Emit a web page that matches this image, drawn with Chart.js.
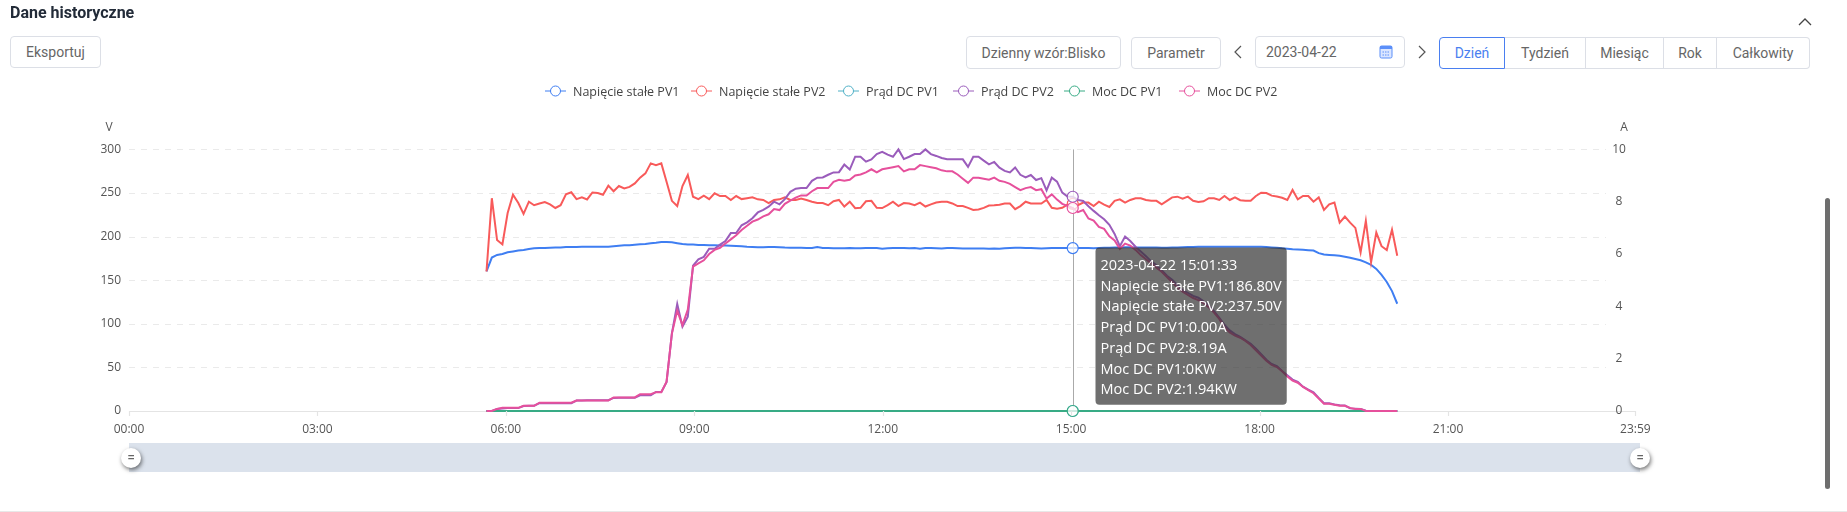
<!DOCTYPE html>
<html>
<head>
<meta charset="utf-8">
<title>Dane historyczne</title>
<script src="https://cdn.jsdelivr.net/npm/chart.js@4/dist/chart.umd.min.js"></script>
<style>
body { margin: 0; width: 1847px; height: 512px; overflow: hidden; background: #fff; font-family: Roboto, sans-serif; position: relative; }
#chart { position: absolute; left: 0; top: 0; }
.title { position: absolute; left: 10px; top: 2px; font-size: 16px; font-weight: 700; color: #222b38; line-height: 22px; }
.btn { position: absolute; box-sizing: border-box; border: 1px solid #dcdfe6; border-radius: 4px; font-size: 14px; color: #666; display: flex; align-items: center; justify-content: center; background: #fff; }
.seg { border-radius: 0; border-left: none; }
.legend-item { position: absolute; top: 83px; height: 16px; display: flex; align-items: center; font: 12.5px "Open Sans", sans-serif; color: #444; white-space: nowrap; }
.legend-item svg { margin-right: 7px; }
.slider { position: absolute; left: 129px; top: 443px; width: 1511px; height: 29px; background: #dbe2ec; }
.handle { position: absolute; top: 448px; width: 20px; height: 20px; border-radius: 50%; background: #fff; box-shadow: 1px 2px 4px rgba(0,0,0,.55); color: #666; font-size: 14px; line-height: 19px; text-align: center; }
.scroll { position: absolute; left: 1825px; top: 198px; width: 5px; height: 291px; background: #6e6e6e; border-radius: 3px; }
.rule { position: absolute; left: 0; right: 0; top: 511px; height: 1px; background: #e8e8e8; }
</style>
</head>
<body>
<canvas id="chart" width="1847" height="512"></canvas>
<div class="title">Dane historyczne</div>
<svg style="position:absolute;left:1798px;top:17px" width="14" height="9"><path d="M1 8 L7 2 L13 8" fill="none" stroke="#444" stroke-width="1.3"/></svg>
<div class="btn" style="left:10px;top:36px;width:91px;height:32px">Eksportuj</div>
<div class="btn" style="left:966px;top:36px;width:155px;height:33px">Dzienny wzór:Blisko</div>
<div class="btn" style="left:1131px;top:37px;width:90px;height:32px">Parametr</div>
<svg style="position:absolute;left:1233px;top:45px" width="10" height="14"><path d="M8 1 L2 7 L8 13" fill="none" stroke="#555" stroke-width="1.2"/></svg>
<div class="btn" style="left:1255px;top:36px;width:150px;height:32px;justify-content:flex-start;padding-left:10px">2023-04-22</div>
<svg style="position:absolute;left:1379px;top:44px" width="14" height="15"><rect x="1" y="2" width="12" height="12" rx="1.5" fill="#dbe6ff" stroke="#5b8ff9"/><rect x="1" y="2" width="12" height="3" fill="#5b8ff9"/><path d="M3.5 8h7M3.5 11h7" stroke="#5b8ff9" stroke-dasharray="1.5 1"/></svg>
<svg style="position:absolute;left:1417px;top:45px" width="10" height="14"><path d="M2 1 L8 7 L2 13" fill="none" stroke="#555" stroke-width="1.2"/></svg>
<div class="btn" style="left:1439px;top:37px;width:66px;height:32px;color:#4a7ff0;border-color:#4a7ff0;border-radius:4px 0 0 4px;z-index:1">Dzień</div>
<div class="btn seg" style="left:1505px;top:37px;width:81px;height:32px">Tydzień</div>
<div class="btn seg" style="left:1586px;top:37px;width:78px;height:32px">Miesiąc</div>
<div class="btn seg" style="left:1664px;top:37px;width:53px;height:32px">Rok</div>
<div class="btn seg" style="left:1717px;top:37px;width:93px;height:32px;border-radius:0 4px 4px 0">Całkowity</div>
<div class="slider"></div>
<div class="handle" style="left:121px">=</div>
<div class="handle" style="left:1630px">=</div>
<div class="scroll"></div>
<div class="rule"></div>
<script>
// minutes of the day for each sample, 05:41:33 to 20:11:33
const times = [341.5,346.6,351.6,356.7,361.7,366.8,371.9,376.9,382,387,392.1,397.2,402.2,407.3,412.3,417.4,422.5,427.5,432.6,437.6,442.7,447.8,452.8,457.9,462.9,468,473.1,478.1,483.2,488.2,493.3,498.4,503.4,508.5,513.5,518.6,523.7,528.7,533.8,538.8,543.9,
  549.1,554.2,559.4,564.6,569.7,574.9,580,585.2,590.4,595.5,600.7,605.9,611,616.2,621.4,626.5,631.7,636.9,642,647.2,652.4,657.5,662.7,667.9,673,678.2,683.3,688.5,693.7,698.8,704,709.2,714.3,719.5,724.7,729.8,735,740.2,745.3,750.5,755.6,760.8,766,771.1,776.3,781.5,
  786.5,791.5,796.5,801.5,806.5,811.5,816.5,821.5,826.5,831.5,836.5,841.5,846.5,851.5,856.5,861.5,866.5,871.5,876.5,881.5,886.5,891.5,896.5,901.5,
  906.5,911.5,916.5,921.5,926.5,931.5,936.5,941.5,946.5,951.5,956.5,961.5,966.5,971.5,976.5,981.5,986.5,991.5,996.5,1001.5,1006.5,1011.5,1016.5,1021.5,
  1026.5,1031.5,1036.5,1041.5,1046.5,1051.5,1056.5,1061.5,1066.5,1071.5,1076.5,1081.5,1086.5,1091.5,1096.5,1101.5,1106.5,1111.5,1116.5,1121.5,1126.5,1131.5,1136.5,1141.5,1146.5,1151.5,1156.5,1161.5,1166.5,1171.5,1176.5,1181.5,1186.5,1191.5,1196.5,1201.5,1206.5,1211.5];

const voltagePV1 = [160,176,179,180,182,183,184,184.6,185.8,186.5,186.8,187,187.2,187.4,187.6,188,188,188.2,188.3,188.4,188.4,188.4,188.4,188.5,189,189.6,190,190,190.6,191.2,191.6,192.4,193,193.8,193.8,193.5,192.5,191.5,191,190.8,190.5,
  190.5,190.2,190,189.8,189.7,189.5,189.2,188.8,188.3,188,187.8,187.8,188,188.2,187.8,187.4,187.2,187.2,187.3,187,187,188,187,186.8,186.6,186.6,186.6,186.8,186.6,186.6,187,186.8,186.8,186.2,186.6,186.8,
  187,186.8,186.6,186.8,186.2,187,186.8,186.6,186.4,186.8,
  186.8,186.6,186.4,186.4,186.4,186.4,186.4,186.2,186.4,186,186.6,187,187.2,187.2,187,186.8,186.6,186.4,186.6,186.8,186.8,186.8,186.8,186.8,
  186.8,187,186.8,186.6,187,187.2,187.2,187.4,187.6,187.8,187.8,187.6,187.4,187.6,187.6,187.4,187.2,187.2,187.4,187.6,187.8,188,188.2,
  188.4,188.5,188.5,188.5,188.5,188.5,188.5,188.5,188.5,188.5,188.5,188.4,188.3,188,187.6,187.2,186.6,186.2,185.6,185.2,184.8,184.4,184,181,179.4,179,178.6,178,177,175.8,174.4,172.8,170.5,167.5,163,156,148,137.5,123];

const voltagePV2 = [160,244,196,191,227,248,238.5,226,240,236,238,239.7,237,232.8,236,248.6,250.8,243,245,242.6,250.6,250,248,258.4,252,258,255.3,257,261,267.6,272.5,284,282,284,263,241,235,258,270.6,245.7,243,
  247,243,249.6,246.5,246.5,242,246.5,243,244,245,242.7,242,238.5,242,242.7,245,242,242,243.7,242,240,238.5,238.5,236,240.5,242,234.5,240,232.5,233,240.5,241,233,232.7,236,240,235,238.5,238,236,239,234.5,237,239,240,240,
  238,235,235,233,230.5,231,233,235.7,236,236.6,238,238,231.5,235,240,238,238,238,242,233,232,233,236.6,237.5,
  236,239,239,235,240,236.6,234,241,242.7,239,242,244,244,242,241,241,237,241,245,245.8,243.5,245.8,241,
  239.7,240.5,244,244,242,246.6,242,245,241.7,241,241,246.6,250.4,250,247,246,244.5,242,253.5,242.7,246.6,246.6,240,245,230.5,237,239,216,223,216,210,182,218,170.4,204.6,189,184.6,208,178];

const currentPV1 = [0,0,0,0,0,0,0,0,0,0,0,0,0,0,0,0,0,0,0,0,0,0,0,0,0,0,0,0,0,0,0,0,0,0,0,0,0,0,0,0,0,0,0,0,0,0,0,0,0,0,
  0,0,0,0,0,0,0,0,0,0,0,0,0,0,0,0,0,0,0,0,0,0,0,0,0,0,0,0,0,0,0,0,0,0,0,0,0,0,0,0,0,0,0,0,0,0,0,0,0,0,
  0,0,0,0,0,0,0,0,0,0,0,0,0,0,0,0,0,0,0,0,0,0,0,0,0,0,0,0,0,0,0,0,0,0,0,0,0,0,0,0,0,0,0,0,0,0,0,0,0,0,
  0,0,0,0,0,0,0,0,0,0,0,0,0,0,0,0,0,0,0,0,0,0,0];

const currentPV2 = [0,0,0.08,0.1,0.11,0.11,0.11,0.19,0.2,0.2,0.3,0.3,0.3,0.3,0.3,0.3,0.3,0.4,0.4,0.41,0.41,0.41,0.41,0.41,0.5,0.51,0.51,0.51,0.51,0.6,0.6,0.6,0.73,0.73,1.1,2.97,4.09,3.22,3.6,
  5.56,5.8,5.89,6.2,6.2,6.36,6.5,6.8,6.8,7.1,7.21,7.37,7.59,7.69,7.81,8,7.9,8.1,8.38,8.5,8.52,8.52,8.8,8.92,8.93,9.03,9.12,9.13,9.42,9.23,9.72,9.72,9.53,9.62,9.82,9.91,9.8,9.72,10,9.63,9.72,9.82,9.82,10,9.82,9.75,9.67,9.62,
  9.62,9.62,9.62,9.33,9.72,9.72,9.57,9.43,9.52,9.3,9.18,9.12,9.31,9.03,8.93,9.02,8.83,8.9,8.43,8.92,8.77,8.35,8.2,8.19,
  8.07,8.03,7.83,7.65,7.48,7.33,7.12,6.77,6.3,6.67,6.5,6.28,6.1,5.92,5.72,5.57,5.38,5.17,5.02,4.82,4.62,4.52,4.4,4.33,
  4.19,4.02,3.82,3.56,3.29,3.08,2.94,2.83,2.7,2.57,2.38,2.17,1.96,1.8,1.72,1.53,1.37,1.2,1.11,0.93,0.82,0.71,0.5,0.3,0.3,0.25,0.22,0.21,0.1,0.09,0.08,0.01,0,0,0,0,0,0];

const powerPV1 = [0,0,0,0,0,0,0,0,0,0,0,0,0,0,0,0,0,0,0,0,0,0,0,0,0,0,0,0,0,0,0,0,0,0,0,0,0,0,0,0,0,0,0,0,0,0,0,0,0,0,
  0,0,0,0,0,0,0,0,0,0,0,0,0,0,0,0,0,0,0,0,0,0,0,0,0,0,0,0,0,0,0,0,0,0,0,0,0,0,0,0,0,0,0,0,0,0,0,0,0,0,
  0,0,0,0,0,0,0,0,0,0,0,0,0,0,0,0,0,0,0,0,0,0,0,0,0,0,0,0,0,0,0,0,0,0,0,0,0,0,0,0,0,0,0,0,0,0,0,0,0,0,
  0,0,0,0,0,0,0,0,0,0,0,0,0,0,0,0,0,0,0,0,0,0,0];

const powerPV2 = [0,0,0.02,0.03,0.03,0.03,0.03,0.05,0.05,0.05,0.08,0.08,0.08,0.08,0.08,0.08,0.08,0.1,0.1,0.1,0.1,0.1,0.1,0.1,0.13,0.13,0.13,0.13,0.13,0.16,0.16,0.16,0.18,0.18,0.28,0.74,0.96,0.82,0.97,
  1.38,1.41,1.44,1.5,1.54,1.56,1.6,1.64,1.68,1.73,1.77,1.81,1.83,1.86,1.88,1.93,1.92,1.98,2.01,2.04,2.06,2.06,2.1,2.13,2.13,2.13,2.19,2.21,2.2,2.21,2.25,2.26,2.28,2.31,2.28,2.31,2.32,2.33,2.34,2.29,2.31,2.31,2.35,2.34,2.33,2.32,2.3,2.29,
  2.29,2.26,2.22,2.18,2.23,2.23,2.22,2.21,2.23,2.2,2.19,2.17,2.14,2.11,2.13,2.14,2.11,2.12,2.03,2.07,2.02,1.98,1.96,1.94,
  1.9,1.92,1.84,1.82,1.76,1.74,1.67,1.63,1.55,1.6,1.58,1.54,1.49,1.45,1.41,1.37,1.33,1.28,1.23,1.18,1.14,1.11,1.08,1.06,
  1.03,0.99,0.94,0.88,0.8,0.75,0.72,0.7,0.67,0.63,0.58,0.53,0.48,0.44,0.42,0.38,0.33,0.29,0.27,0.23,0.2,0.17,0.12,0.07,0.07,0.06,0.05,0.05,0.03,0.02,0.02,0,0,0,0,0,0,0];

const seriesNames = ["Napięcie stałe PV1", "Napięcie stałe PV2", "Prąd DC PV1", "Prąd DC PV2", "Moc DC PV1", "Moc DC PV2"];
const seriesColors = ["#3f7ef2", "#f85a5a", "#4fb0c6", "#9a5cbb", "#38ab85", "#e6509c"];
const seriesUnits = ["V", "V", "A", "A", "KW", "KW"];
const seriesDigits = [2, 2, 2, 2, 0, 2];
const seriesAxes = ["y", "y", "y2", "y2", "y3", "y3"];
const seriesValues = [voltagePV1, voltagePV2, currentPV1, currentPV2, powerPV1, powerPV2];
const legendLeft = [545, 691, 838, 953, 1064, 1179];

const xTicks = [0, 180, 360, 540, 720, 900, 1080, 1260, 1439];
const xTickLabels = ["00:00", "03:00", "06:00", "09:00", "12:00", "15:00", "18:00", "21:00", "23:59"];
const voltageTicks = [0, 50, 100, 150, 200, 250, 300];
const currentTicks = [0, 2, 4, 6, 8, 10];

const tooltipIndex = 110;
const tooltipTitle = "2023-04-22 15:01:33";

// legend is html, the library one can't do the line-through-circle icon
seriesNames.forEach((name, i) => {
    const item = document.createElement("div");
    item.className = "legend-item";
    item.style.left = legendLeft[i] + "px";
    item.innerHTML = `<svg width="21" height="12"><line x1="0" y1="6" x2="21" y2="6" stroke="${seriesColors[i]}"/><circle cx="10.5" cy="6" r="5" fill="#fff" stroke="${seriesColors[i]}"/></svg>${name}`;
    document.body.appendChild(item);
});

Chart.Tooltip.positioners.fixedBox = function () {
    return { x: 1099.5, y: 247.5 };
};

const gridRight = 1606;

const axisExtras = {
    id: "axisExtras",
    beforeDatasetsDraw(chart) {
        const { ctx, chartArea, scales } = chart;
        ctx.save();
        // dashed grid stops short of the right axis labels
        ctx.strokeStyle = "#eaeaea";
        ctx.lineWidth = 1;
        ctx.setLineDash([6, 6]);
        voltageTicks.forEach((v) => {
            if (v === 0) return;
            const y = Math.round(scales.y.getPixelForValue(v)) + 0.5;
            ctx.beginPath();
            ctx.moveTo(chartArea.left, y);
            ctx.lineTo(gridRight, y);
            ctx.stroke();
        });
        ctx.setLineDash([]);
        // crosshair
        const cx = Math.round(scales.x.getPixelForValue(times[tooltipIndex])) + 0.5;
        ctx.strokeStyle = "#aaaaaa";
        ctx.beginPath();
        ctx.moveTo(cx, chartArea.top);
        ctx.lineTo(cx, chartArea.bottom);
        ctx.stroke();
        // right axis labels and units
        ctx.font = '12px "Open Sans", sans-serif';
        ctx.fillStyle = "#555";
        ctx.textAlign = "center";
        ctx.textBaseline = "middle";
        currentTicks.forEach((v) => {
            ctx.fillText(String(v), 1619, scales.y2.getPixelForValue(v));
        });
        ctx.fillText("V", 109, 128);
        ctx.fillText("A", 1624, 128);
        ctx.restore();
    }
};

const chart = new Chart(document.getElementById("chart"), {
    type: "line",
    data: {
        datasets: seriesNames.map((name, i) => ({
            label: name,
            data: seriesValues[i].map((v, k) => ({ x: times[k], y: v })),
            yAxisID: seriesAxes[i],
            borderColor: seriesColors[i],
            borderWidth: 2,
            tension: 0,
            order: 6 - i,
            clip: false,
            pointRadius: (c) => (c.dataIndex === tooltipIndex ? 5.5 : 0),
            pointBackgroundColor: "rgba(255,255,255,0.75)",
            pointBorderColor: seriesColors[i],
            pointBorderWidth: 1.2,
            pointHoverRadius: 5.5
        }))
    },
    options: {
        responsive: false,
        animation: false,
        events: [],
        layout: { padding: { top: 149.4, left: 0, right: 0, bottom: 0 } },
        plugins: {
            legend: { display: false },
            tooltip: {
                position: "fixedBox",
                mode: "index",
                intersect: false,
                xAlign: "left",
                yAlign: "top",
                caretSize: 0,
                caretPadding: 0,
                cornerRadius: 4,
                backgroundColor: "rgba(50,50,50,0.7)",
                displayColors: false,
                padding: { left: 5, right: 5, top: 8, bottom: 4 },
                titleColor: "#fff",
                bodyColor: "#fff",
                titleFont: { family: '"Open Sans", sans-serif', size: 14.5, weight: "normal", lineHeight: 1.43 },
                bodyFont: { family: '"Open Sans", sans-serif', size: 14.5, weight: "500", lineHeight: 1.43 },
                titleMarginBottom: 0,
                titleSpacing: 0,
                bodySpacing: 0,
                itemSort: (a, b) => a.datasetIndex - b.datasetIndex,
                callbacks: {
                    title: () => tooltipTitle,
                    label: (c) => {
                        const i = c.datasetIndex;
                        return `${seriesNames[i]}:${seriesValues[i][c.dataIndex].toFixed(seriesDigits[i])}${seriesUnits[i]}`;
                    }
                }
            }
        },
        scales: {
            x: {
                type: "linear",
                min: 0,
                max: 1439,
                afterBuildTicks: (s) => { s.ticks = xTicks.map((v) => ({ value: v })); },
                afterFit: (s) => { s.height = 101; },
                grid: { display: false, drawTicks: false },
                border: { color: "#e4e4e4" },
                ticks: {
                    autoSkip: false,
                    maxRotation: 0,
                    padding: 11,
                    color: "#555",
                    font: { family: '"Open Sans", sans-serif', size: 12 },
                    callback: (v) => xTickLabels[xTicks.indexOf(v)]
                }
            },
            y: {
                position: "left",
                min: 0,
                max: 300,
                afterBuildTicks: (s) => { s.ticks = voltageTicks.map((v) => ({ value: v })); },
                afterFit: (s) => { s.width = 129; },
                grid: { display: false },
                border: { display: false },
                ticks: { padding: 0, color: "#555", font: { family: '"Open Sans", sans-serif', size: 12 } }
            },
            y2: {
                position: "right",
                min: 0,
                max: 10,
                afterFit: (s) => { s.width = 211.6; },
                grid: { display: false },
                border: { display: false },
                ticks: { display: false }
            },
            y3: { display: false, min: 0, max: 2.5 }
        }
    },
    plugins: [axisExtras, {
        id: "xTickMarks",
        afterDraw(c) {
            const { ctx, scales, chartArea } = c;
            ctx.save();
            ctx.strokeStyle = "#e4e4e4";
            xTicks.forEach((v) => {
                const x = Math.round(scales.x.getPixelForValue(v)) + 0.5;
                ctx.beginPath();
                ctx.moveTo(x, chartArea.bottom);
                ctx.lineTo(x, chartArea.bottom + 5);
                ctx.stroke();
            });
            ctx.restore();
        }
    }]
});

chart.tooltip.setActiveElements(
    seriesNames.map((n, i) => ({ datasetIndex: i, index: tooltipIndex })),
    { x: 0, y: 0 }
);
chart.render();
</script>
</body>
</html>
